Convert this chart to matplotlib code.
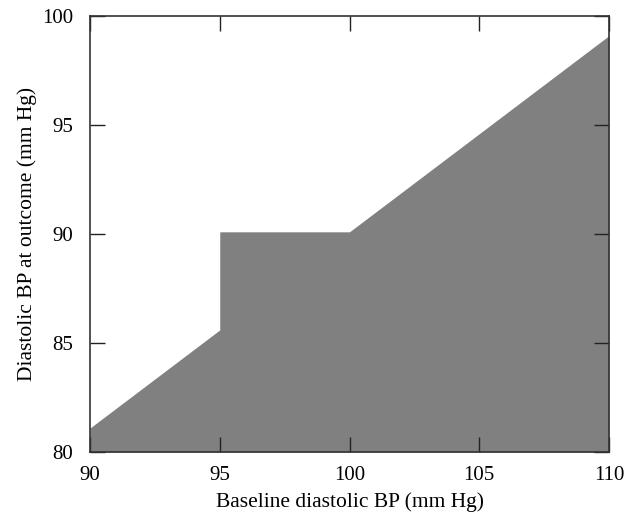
import matplotlib
matplotlib.use('Agg')
import matplotlib.pyplot as plt

plt.rcParams['font.family'] = ['Liberation Serif', 'DejaVu Serif']

# boundary of shaded region
base_bp = [90, 95, 95, 100, 110]
outcome_bp = [81.1, 85.6, 90.1, 90.1, 99.1]

fig = plt.figure(figsize=(6.25, 5.17), dpi=100)
ax = fig.add_axes([90/625, 1-452/517, (609-90)/625, (452-16)/517])

ax.fill_between(base_bp, 80, outcome_bp, color='#808080', linewidth=0)

ax.set_xlim(90, 110)
ax.set_ylim(80, 100)
ax.set_xticks([90, 95, 100, 105, 110])
ax.set_yticks([80, 85, 90, 95, 100])
ax.tick_params(direction='in', length=11, width=1, top=True, right=True,
               labelsize=15, color='#222222')
ax.tick_params(axis='x', pad=10)
ax.tick_params(axis='y', pad=12)
for s in ax.spines.values():
    s.set_color('#333333')
    s.set_linewidth(1.2)

ax.set_xlabel('Baseline diastolic BP (mm Hg)', fontsize=15.5, labelpad=5)
ax.set_ylabel('Diastolic BP at outcome (mm Hg)', fontsize=15.5, labelpad=4)

fig.savefig('out.png', dpi=100)
